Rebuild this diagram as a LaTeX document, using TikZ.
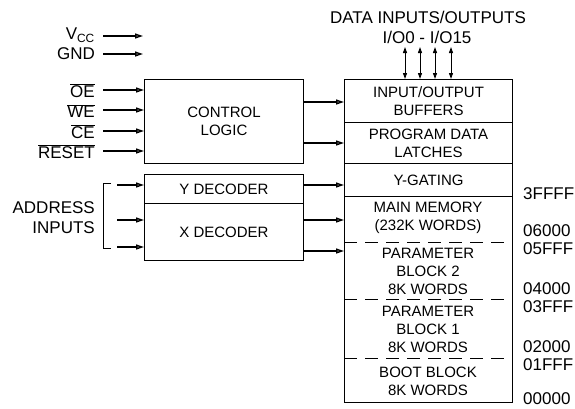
\documentclass[tikz,border=0pt]{standalone}
\usepackage{fontspec}
\setmainfont{Liberation Sans}
\usetikzlibrary{arrows.meta}
\newcommand\ovl[1]{$\overline{\hbox{#1}}$}
\begin{document}
\begin{tikzpicture}[x=1pt,y=-1pt,
  lbl/.style={font=\fontsize{17}{19}\selectfont, inner sep=0pt, anchor=east},
  adr/.style={font=\fontsize{17}{19}\selectfont, inner sep=0pt, anchor=west},
  box/.style={draw, line width=1pt, inner sep=0pt, align=center, anchor=north west,
    font=\fontsize{15}{18}\selectfont},
  txt/.style={inner sep=0pt, align=center, font=\fontsize{15}{18}\selectfont},
  arr/.style={line width=1.3pt, -{Triangle[length=8pt,width=5pt,fill=gray]}},
  ioarr/.style={line width=1pt, {Triangle[length=6pt,width=4pt]}-{Triangle[length=6pt,width=4pt]}},
  dashline/.style={line width=1pt, dash pattern=on 13pt off 8pt, dash phase=0pt}]
\useasboundingbox (0,0) rectangle (575,408);

% top labels
\node[inner sep=0pt, font=\fontsize{17}{19}\selectfont] (dio) at (428,17) {DATA INPUTS/OUTPUTS};
\node[inner sep=0pt, font=\fontsize{17}{19}\selectfont] (io015) at (427,37) {I/O0 - I/O15};

% left labels
\node[lbl] (vcc) at (95,35) {V\textsubscript{CC}};
\node[lbl] (gnd) at (95,54) {GND};
\node[lbl] (oe) at (95,91) {\ovl{OE}};
\node[lbl] (we) at (95,111) {\ovl{WE}};
\node[lbl] (ce) at (95,132) {\ovl{CE}};
\node[lbl] (rst) at (95,152) {\ovl{RESET}};
\node[lbl, align=right, font=\fontsize{17}{20}\selectfont] (addr) at (95,218) {ADDRESS\\INPUTS};

% control logic and decoders
\node[box, minimum width=159, minimum height=84] (cl) at (144,79) {CONTROL\\LOGIC};
\node[box, minimum width=159, minimum height=29] (yd) at (144,174) {Y DECODER};
\node[box, minimum width=159, minimum height=57] (xd) at (144,203) {X DECODER};

% memory column
\node[box, minimum width=168, minimum height=43] (iob) at (344,79) {INPUT/OUTPUT\\BUFFERS};
\node[box, minimum width=168, minimum height=41] (pdl) at (344,122) {PROGRAM DATA\\LATCHES};
\node[box, minimum width=168, minimum height=33] (yg) at (344,163) {Y-GATING};
\node[box, minimum width=168, minimum height=206] (mem) at (344,196) {};
\node[txt] (mm) at (428,218) {MAIN MEMORY\\(232K WORDS)};
\node[txt] (pb2) at (428,271) {PARAMETER\\BLOCK 2\\8K WORDS};
\node[txt] (pb1) at (428,329) {PARAMETER\\BLOCK 1\\8K WORDS};
\node[txt] (boot) at (428,381) {BOOT BLOCK\\8K WORDS};
\coordinate (d1) at (344,242);
\coordinate (d2) at (344,299);
\coordinate (d3) at (344,358);
\draw[dashline] (d1) -- (d1 -| mem.east);
\draw[dashline] (d2) -- (d2 -| mem.east);
\draw[dashline] (d3) -- (d3 -| mem.east);

% addresses
\node[adr] (a1) at (523,194) {3FFFF};
\node[adr] (a2) at (523,231) {06000};
\node[adr] (a3) at (523,249) {05FFF};
\node[adr] (a4) at (523,289) {04000};
\node[adr] (a5) at (523,307) {03FFF};
\node[adr] (a6) at (523,347) {02000};
\node[adr] (a7) at (523,365) {01FFF};
\node[adr] (a8) at (523,399) {00000};

% left input arrows
\coordinate (svcc) at (103,36);
\coordinate (sgnd) at (103,54);
\coordinate (soe) at (103,90);
\coordinate (swe) at (103,110);
\coordinate (sce) at (103,131);
\coordinate (srst) at (103,151);
\draw[arr] (svcc) -- ++(40,0);
\draw[arr] (sgnd) -- ++(40,0);
\draw[arr] (soe) -- (soe -| cl.west);
\draw[arr] (swe) -- (swe -| cl.west);
\draw[arr] (sce) -- (sce -| cl.west);
\draw[arr] (srst) -- (srst -| cl.west);

% address bracket and arrows
\coordinate (bt) at (111,183);
\coordinate (bb) at (111,248);
\draw[line width=0.8pt] (bt) -- (103,183) -- (103,248) -- (bb);
\coordinate (sa1) at (117,185);
\coordinate (sa2) at (117,220);
\coordinate (sa3) at (117,247);
\draw[arr] (sa1) -- (sa1 -| yd.west);
\draw[arr] (sa2) -- (sa2 -| xd.west);
\draw[arr] (sa3) -- (sa3 -| xd.west);

% control logic to memory
\coordinate (c1) at (303,102);
\coordinate (c2) at (303,143);
\draw[arr] (c1) -- (c1 -| iob.west);
\draw[arr] (c2) -- (c2 -| pdl.west);

% decoders to memory
\coordinate (e1) at (303,185);
\coordinate (e2) at (303,220);
\coordinate (e3) at (303,251);
\draw[arr] (e1) -- (e1 -| yg.west);
\draw[arr] (e2) -- (e2 -| mem.west);
\draw[arr] (e3) -- (e3 -| mem.west);

% data I/O arrows
\foreach \x/\n in {405/1,420/2,435/3,451/4}{
  \coordinate (t\n) at (\x,47);
  \draw[ioarr] (t\n) -- (t\n |- iob.north);
}
\end{tikzpicture}
\end{document}
